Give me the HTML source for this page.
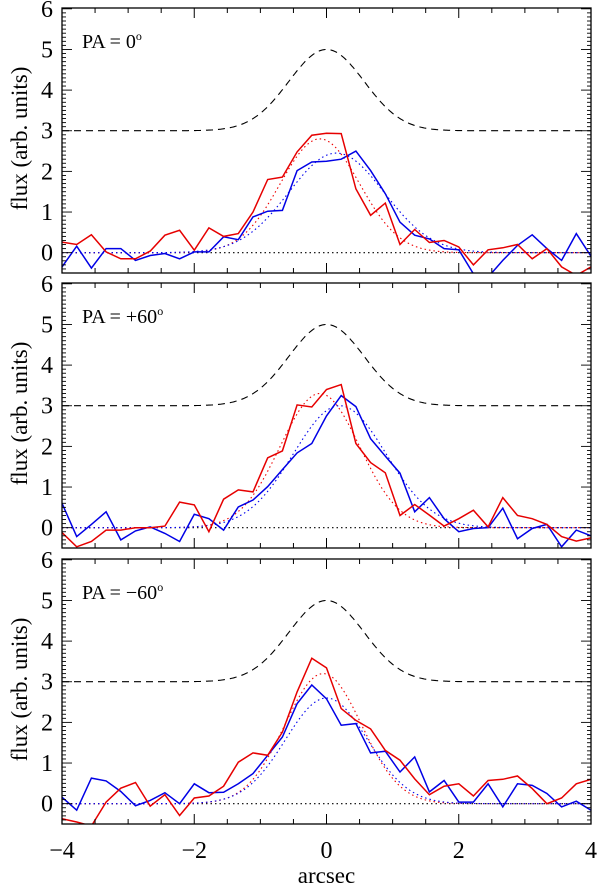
<!DOCTYPE html>
<html><head><meta charset="utf-8"><style>
html,body{margin:0;padding:0;background:#fff;}
svg{display:block;}
text{font-family:"Liberation Serif","Times New Roman",serif;fill:#000;}
</style></head><body>
<svg id="chart" width="600" height="887" viewBox="0 0 600 887" xmlns="http://www.w3.org/2000/svg"></svg>
<script>
// ---- data ----
const xStart = -4, xStep = 8/36;
const panelLabels = ["PA = 0", "PA = +60", "PA = \u221260"];
const redP1 = [0.26,0.2,0.44,0.02,-0.15,-0.15,0.04,0.43,0.55,0.06,0.61,0.4,0.47,1.0,1.8,1.86,2.48,2.89,2.94,2.93,1.57,0.92,1.22,0.2,0.57,0.25,0.3,0.14,-0.3,0.07,0.12,0.2,-0.15,0.1,-0.35,-0.56,-0.35];
const blueP1 = [-0.35,0.16,-0.38,0.1,0.1,-0.19,-0.07,-0.02,-0.15,0.02,0.02,0.39,0.32,0.88,1.02,1.04,2.02,2.23,2.25,2.3,2.5,2.02,1.45,0.75,0.43,0.34,0.1,0.07,-0.52,-0.6,-0.19,0.18,0.44,0.1,-0.19,0.47,-0.09];
const redP2 = [-0.12,-0.47,-0.34,-0.06,-0.06,0,0,0.04,0.63,0.56,-0.1,0.7,0.93,0.88,1.72,1.89,3.02,2.97,3.4,3.52,2.07,1.6,1.35,0.3,0.57,0.31,0.04,0.22,0.43,0.02,0.74,0.3,0.22,0.08,-0.22,-0.33,-0.25];
const blueP2 = [0.6,-0.22,0.08,0.39,-0.3,-0.08,0.02,-0.14,-0.34,0.33,0.22,-0.06,0.51,0.68,1.01,1.43,1.84,2.07,2.75,3.25,2.98,2.19,1.76,1.34,0.39,0.74,0.22,-0.1,-0.02,0,0.48,-0.27,-0.02,0.08,-0.47,-0.06,-0.2];
const redP3 = [-0.37,-0.45,-0.55,0.04,0.38,0.52,-0.06,0.22,-0.29,0.14,0.19,0.43,1.02,1.25,1.19,1.76,2.75,3.58,3.34,2.34,2.05,1.84,1.31,1.07,0.61,0.22,0.43,0.49,0.19,0.57,0.6,0.68,0.37,0,0.14,0.49,0.6];
const blueP3 = [0.16,-0.16,0.63,0.56,0.3,-0.05,0.08,0.27,0,0.49,0.27,0.28,0.49,0.74,1.19,1.64,2.46,2.92,2.58,1.93,1.97,1.25,1.29,0.78,1.15,0.29,0.57,0.04,0.04,0.49,-0.08,0.49,0.45,0.25,-0.08,0.06,-0.16];
// gaussian fit params: [amplitude, center, sigma]
const redFits = [[2.8,-0.1,0.6],[3.3,-0.1,0.6],[3.2,-0.05,0.58]];
const blueFits = [[2.45,0.15,0.72],[3.0,0.2,0.7],[2.6,0.0,0.62]];
const psf = [3, 2, 0.57]; // baseline, amplitude, sigma
const xTicks = [-4,-2,0,2,4];
const yTicks = [0,1,2,3,4,5,6];

const reds=[redP1,redP2,redP3], blues=[blueP1,blueP2,blueP3];
const svgEl=document.getElementById('chart');
const NS='http://www.w3.org/2000/svg';
const FONT='"Liberation Serif", "Times New Roman", serif';
function mk(tag,attrs,parent){const e=document.createElementNS(NS,tag);for(const k in attrs)e.setAttribute(k,attrs[k]);(parent||svgEl).appendChild(e);return e;}
const L=62, R=591, H=265, tops=[8,283,559], yMin=-0.5, yMax=6.02;
const sx=v=>L+(v+4)/8*(R-L);
const sy=(t0,v)=>t0+H-(v-yMin)/(yMax-yMin)*H;
const defs=mk('defs',{});

tops.forEach((t0,p)=>{
  const g=mk('g',{});
  
  
  const cp=mk('clipPath',{id:'c'+p},defs);
  mk('rect',{x:L,y:t0,width:R-L,height:H},cp);
  const inner=mk('g',{'clip-path':'url(#c'+p+')'},g);
  const z=mk('line',{x1:L,x2:R,y1:sy(t0,0),y2:sy(t0,0),stroke:'#000','stroke-width':1.2,'stroke-dasharray':'1.5 3'},inner);
  
  
  function curve(f,col,dash,name,w){
    let d='';for(let i=0;i<=400;i++){const x=-4+8*i/400;d+=(i?'L':'M')+sx(x).toFixed(1)+' '+sy(t0,f(x)).toFixed(1);}
    const e=mk('path',{d:d,fill:'none',stroke:col,'stroke-width':w,'stroke-dasharray':dash},inner);
    
    
  }
  curve(x=>psf[0]+psf[1]*Math.exp(-x*x/(2*psf[2]*psf[2])),'#000','7 5','psf-dashed',1.1);
  const rf=redFits[p], bf=blueFits[p];
  curve(x=>rf[0]*Math.exp(-Math.pow(x-rf[1],2)/(2*rf[2]*rf[2])),'#e00','1.5 3','red-fit',1.1);
  curve(x=>bf[0]*Math.exp(-Math.pow(x-bf[1],2)/(2*bf[2]*bf[2])),'#00e','1.5 3','blue-fit',1.1);
  function series(arr,col,name){
    const pts=arr.map((v,i)=>sx(xStart+i*xStep).toFixed(1)+','+sy(t0,v).toFixed(1)).join(' ');
    const e=mk('polyline',{points:pts,fill:'none',stroke:col,'stroke-width':1.5},inner);
    
    
  }
  series(blues[p],'#0000e6','blue-profile');
  series(reds[p],'#e60000','red-profile');
  const fr=mk('rect',{x:L,y:t0,width:R-L,height:H,fill:'none',stroke:'#000','stroke-width':1.3},g);
  
  
  for(let v=-4;v<=4.001;v+=0.5){
    const major=Math.abs(v-Math.round(v/2)*2)<1e-6; const len=major?10:5;
    mk('line',{x1:sx(v),x2:sx(v),y1:t0+H,y2:t0+H-len,stroke:'#000','stroke-width':1},g);
    mk('line',{x1:sx(v),x2:sx(v),y1:t0,y2:t0+len,stroke:'#000','stroke-width':1},g);
  }
  for(let k=-5;k<=60;k++){
    const v=k/10; const major=k%10===0; const len=major?10:4;
    mk('line',{x1:L,x2:L+len,y1:sy(t0,v),y2:sy(t0,v),stroke:'#000','stroke-width':0.9},g);
    mk('line',{x1:R,x2:R-len,y1:sy(t0,v),y2:sy(t0,v),stroke:'#000','stroke-width':0.9},g);
  }
  yTicks.forEach(v=>{
    const t=mk('text',{x:L-9,y:sy(t0,v)+8,'font-size':24,'text-anchor':'end','font-family':FONT},g);
    t.textContent=v;
    
    
  });
  const lab=mk('text',{x:82,y:t0+40,'font-size':20,'font-family':FONT},g);
  lab.textContent=panelLabels[p];
  const sup=mk('tspan',{'font-size':12,dy:-8},lab); sup.textContent='o';
  
  
  const yl=mk('text',{x:0,y:0,'font-size':23,'text-anchor':'middle','font-family':FONT,transform:'translate(27,'+(t0+H/2-2)+') rotate(-90)'},g);
  yl.textContent='flux (arb. units)';
  
  
});
xTicks.forEach(v=>{
  const t=mk('text',{x:sx(v),y:858,'font-size':24,'text-anchor':'middle','font-family':FONT});
  t.textContent=(v<0?'\u2212':'')+Math.abs(v);
  
  
});
const xt=mk('text',{x:sx(0),y:883,'font-size':23,'text-anchor':'middle','font-family':FONT});
xt.textContent='arcsec';


</script>
</body></html>
